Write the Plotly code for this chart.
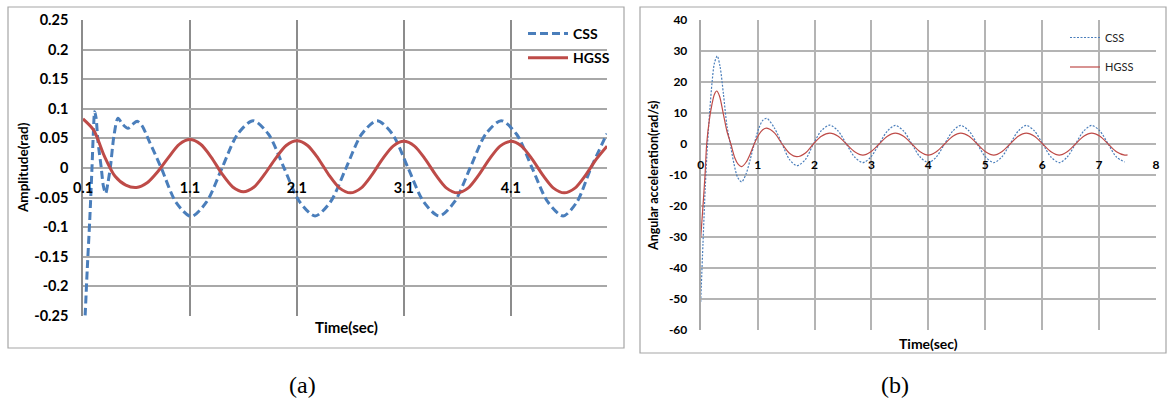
import plotly.graph_objects as go

W, H = 1168, 408
def px(x): return x / W
def py(y): return 1 - y / H

FONT = "Lato"
BLUE = "#4a7ebb"
RED = "#be4b48"

# ---------------- data: chart (a) ----------------
t_css_a = [0.115, 0.14, 0.163, 0.184, 0.197, 0.209, 0.222, 0.24, 0.271, 0.29, 0.312, 0.333,
           0.355, 0.39, 0.427, 0.47, 0.52, 0.565, 0.607, 0.65, 0.72, 0.832, 0.97, 1.112,
           1.257, 1.40, 1.545, 1.69, 1.835, 1.98, 2.125, 2.27, 2.415, 2.56, 2.705, 2.85,
           2.995, 3.14, 3.285, 3.43, 3.575, 3.72, 3.865, 4.01, 4.155, 4.30, 4.445, 4.59,
           4.72, 4.85, 5.00]
css_a = [-0.27, -0.17, -0.088, 0.0, 0.06, 0.095, 0.085, 0.045, 0.0, -0.03, -0.043, -0.025,
         0.0, 0.055, 0.084, 0.074, 0.067, 0.074, 0.079, 0.072, 0.045, 0.0, -0.058, -0.082,
         -0.057, 0.0, 0.057, 0.080, 0.057, 0.0, -0.057, -0.081, -0.057, 0.0, 0.057, 0.080,
         0.057, 0.0, -0.057, -0.081, -0.057, 0.0, 0.057, 0.080, 0.057, 0.0, -0.057, -0.081,
         -0.057, 0.0, 0.058]
t_hgss_a = [0.1, 0.2, 0.3, 0.4, 0.5, 0.6, 0.7, 0.8, 0.9, 1.0,
            1.1, 1.2, 1.3, 1.4, 1.5, 1.6, 1.7, 1.8, 1.9, 2.0,
            2.1, 2.2, 2.3, 2.4, 2.5, 2.6, 2.7, 2.8, 2.9, 3.0,
            3.1, 3.2, 3.3, 3.4, 3.5, 3.6, 3.7, 3.8, 3.9, 4.0,
            4.1, 4.2, 4.3, 4.4, 4.5, 4.6, 4.7, 4.8, 4.9, 5.0]
hgss_a = [0.083, 0.064, 0.020, -0.014, -0.029, -0.033, -0.025, -0.006, 0.018, 0.040,
          0.048, 0.040, 0.018, -0.010, -0.032, -0.040, -0.032, -0.010, 0.016, 0.038,
          0.046, 0.038, 0.016, -0.012, -0.034, -0.042, -0.034, -0.012, 0.015, 0.037,
          0.045, 0.037, 0.015, -0.012, -0.034, -0.042, -0.034, -0.012, 0.015, 0.037,
          0.045, 0.037, 0.015, -0.012, -0.034, -0.042, -0.034, -0.012, 0.015, 0.037]
xticks_a = [0.1, 1.1, 2.1, 3.1, 4.1]
xticklabels_a = ["0.1", "1.1", "2.1", "3.1", "4.1"]
yticks_a = [0.25, 0.2, 0.15, 0.1, 0.05, 0, -0.05, -0.1, -0.15, -0.2, -0.25]
yticklabels_a = ["0.25", "0.2", "0.15", "0.1", "0.05", "0", "-0.05", "-0.1", "-0.15", "-0.2", "-0.25"]

# ---------------- data: chart (b) ----------------
t_css_b = [0.0, 0.04, 0.08, 0.12, 0.16, 0.20, 0.24, 0.29, 0.34, 0.40, 0.46, 0.52, 0.58,
           0.65, 0.72, 0.80, 0.87, 0.94, 1.02, 1.09, 1.16, 1.30, 1.43, 1.56, 1.69, 1.84,
           1.98, 2.12, 2.27, 2.415, 2.56, 2.705, 2.85, 2.99, 3.135, 3.28, 3.42, 3.565,
           3.71, 3.855, 4.00, 4.14, 4.285, 4.43, 4.57, 4.715, 4.86, 5.005, 5.15, 5.29,
           5.435, 5.58, 5.72, 5.865, 6.01, 6.155, 6.30, 6.44, 6.585, 6.73, 6.87, 7.015,
           7.16, 7.305, 7.45]
css_b = [-51, -32, -14, 0, 11, 20, 26, 28.4, 25, 16, 6, 0, -6,
         -10.8, -12.2, -9.5, -5, 0, 5, 7.6, 8.3, 5.0, 0, -5.0, -7.0, -5.0,
         0, 4.3, 6.1, 4.2, 0, -4.2, -6.0, -4.2, 0, 4.2, 6.0, 4.2,
         0, -4.2, -6.0, -4.2, 0, 4.2, 6.0, 4.2, 0, -4.2, -6.0, -4.2,
         0, 4.2, 6.0, 4.2, 0, -4.2, -6.0, -4.2, 0, 4.2, 6.0, 4.2,
         0, -4.2, -5.8]
t_hgss_b = [0.0, 0.04, 0.076, 0.105, 0.15, 0.20, 0.24, 0.28, 0.33, 0.40, 0.46, 0.53, 0.60,
            0.66, 0.72, 0.80, 0.87, 0.94, 1.02, 1.09, 1.16, 1.30, 1.43, 1.56, 1.69, 1.84,
            1.98, 2.12, 2.27, 2.415, 2.56, 2.705, 2.85, 2.99, 3.135, 3.28, 3.42, 3.565,
            3.71, 3.855, 4.00, 4.14, 4.285, 4.43, 4.57, 4.715, 4.86, 5.005, 5.15, 5.29,
            5.435, 5.58, 5.72, 5.865, 6.01, 6.155, 6.30, 6.44, 6.585, 6.73, 6.87, 7.015,
            7.16, 7.305, 7.45, 7.5]
hgss_b = [-30.3, -20, -10, 0, 7.5, 13, 16, 17.1, 15.5, 9.5, 4.2, 0, -4.5,
          -6.6, -7.3, -5.8, -3.2, 0, 3.0, 4.6, 5.1, 3.5, 0, -3.0, -4.1, -2.9,
          0, 2.5, 3.5, 2.5, 0, -2.5, -3.6, -2.5, 0, 2.5, 3.5, 2.5,
          0, -2.5, -3.6, -2.5, 0, 2.5, 3.5, 2.5, 0, -2.5, -3.6, -2.5,
          0, 2.5, 3.5, 2.5, 0, -2.5, -3.6, -2.5, 0, 2.5, 3.5, 2.5,
          0, -2.5, -3.6, -3.5]
xticks_b = [0, 1, 2, 3, 4, 5, 6, 7, 8]
xticklabels_b = ["0", "1", "2", "3", "4", "5", "6", "7", "8"]
yticks_b = [40, 30, 20, 10, 0, -10, -20, -30, -40, -50, -60]
yticklabels_b = ["40", "30", "20", "10", "0", "-10", "-20", "-30", "-40", "-50", "-60"]

series_names = ["CSS", "HGSS"]

fig = go.Figure()

fig.add_trace(go.Scatter(x=t_css_a, y=css_a, name=series_names[0], mode="lines",
                         line=dict(color=BLUE, width=3, dash="8px,4px", shape="spline", smoothing=0.8),
                         xaxis="x", yaxis="y", legend="legend", legendgroup="a1"))
fig.add_trace(go.Scatter(x=t_hgss_a, y=hgss_a, name=series_names[1], mode="lines",
                         line=dict(color=RED, width=3, shape="spline", smoothing=0.8),
                         xaxis="x", yaxis="y", legend="legend", legendgroup="a2"))
fig.add_trace(go.Scatter(x=t_css_b, y=css_b, name=series_names[0], mode="lines",
                         line=dict(color=BLUE, width=1.2, dash="2px,1.5px", shape="spline", smoothing=0.8),
                         xaxis="x2", yaxis="y2", legend="legend2", legendgroup="b1"))
fig.add_trace(go.Scatter(x=t_hgss_b, y=hgss_b, name=series_names[1], mode="lines",
                         line=dict(color=RED, width=1.2, shape="spline", smoothing=0.8),
                         xaxis="x2", yaxis="y2", legend="legend2", legendgroup="b2"))

tickfont_a = dict(family=FONT, size=14.5, color="#000000", weight="bold")
tickfont_b = dict(family=FONT, size=12, color="#000000", weight="bold")

fig.update_layout(
    width=W, height=H,
    margin=dict(l=0, r=0, t=0, b=0, autoexpand=False),
    paper_bgcolor="white", plot_bgcolor="white",
    xaxis=dict(domain=[px(83), px(607)], range=[0.1, 5.0], tickvals=xticks_a, ticktext=xticklabels_a,
               showgrid=True, gridcolor="#8c8c8c", gridwidth=1.5, zeroline=False, showline=False,
               ticks="", anchor="free", position=py(168), tickfont=tickfont_a, ticklabelstandoff=9,
               automargin=False),
    yaxis=dict(domain=[py(316), py(20)], range=[-0.25, 0.25], tickvals=yticks_a, ticktext=yticklabels_a,
               showgrid=True, gridcolor="#a8a8a8", gridwidth=1.5, zeroline=False, showline=True,
               linecolor="#8c8c8c", linewidth=1.5, ticks="", anchor="x", tickfont=tickfont_a,
               ticklabelstandoff=10, automargin=False),
    xaxis2=dict(domain=[px(700.7), px(1156)], range=[0, 8], tickvals=xticks_b, ticktext=xticklabels_b,
                showgrid=True, gridcolor="#b4b4b4", gridwidth=2, zeroline=False, showline=False,
                ticks="", anchor="free", position=py(144), tickfont=tickfont_b,
                ticklabelstandoff=12, automargin=False),
    yaxis2=dict(domain=[py(330), py(20)], range=[-60, 40], tickvals=yticks_b, ticktext=yticklabels_b,
                showgrid=True, gridcolor="#b4b4b4", gridwidth=2, zeroline=False, showline=True,
                linecolor="#a8a8a8", linewidth=2, ticks="", anchor="x2",
                tickfont=tickfont_b, ticklabelstandoff=9, automargin=False),
    legend=dict(x=px(523), y=py(18), xanchor="left", yanchor="top", bgcolor="rgba(0,0,0,0)",
                font=dict(family=FONT, size=14, color="#000000", weight="bold"),
                tracegroupgap=3, itemwidth=40),
    legend2=dict(x=px(1065), y=py(23), xanchor="left", yanchor="top", bgcolor="rgba(0,0,0,0)",
                 font=dict(family=FONT, size=11, color="#222222"),
                 tracegroupgap=10.5, itemwidth=30),
    showlegend=True,
)

shapes = [
    dict(type="rect", xref="paper", yref="paper", x0=px(8), x1=px(624), y0=py(348), y1=py(7),
         line=dict(color="#a6a6a6", width=1.2), fillcolor="rgba(0,0,0,0)", layer="below"),
    dict(type="rect", xref="paper", yref="paper", x0=px(640), x1=px(1166), y0=py(353), y1=py(7),
         line=dict(color="#a6a6a6", width=1.2), fillcolor="rgba(0,0,0,0)", layer="below"),
]
fig.update_layout(shapes=shapes)

annotations = [
    dict(text="Amplitude(rad)", x=px(23), y=py(168), textangle=-90,
         font=dict(family=FONT, size=13.5, color="#000000", weight="bold")),
    dict(text="Time(sec)", x=px(346), y=py(327),
         font=dict(family=FONT, size=15, color="#000000", weight="bold")),
    dict(text="Angular acceleration(rad/s)", x=px(653), y=py(176), textangle=-90,
         font=dict(family=FONT, size=12.5, color="#000000", weight="bold")),
    dict(text="Time(sec)", x=px(928), y=py(343),
         font=dict(family=FONT, size=14, color="#000000", weight="bold")),
    dict(text="(a)", x=px(302), y=py(385), font=dict(family="Liberation Serif", size=24, color="#000000")),
    dict(text="(b)", x=px(895), y=py(385), font=dict(family="Liberation Serif", size=24, color="#000000")),
]
for a in annotations:
    a.update(xref="paper", yref="paper", showarrow=False, xanchor="center", yanchor="middle")
fig.update_layout(annotations=annotations)

fig.write_html("out.html", config={"displayModeBar": False},
               post_script="document.body.style.margin='0px';")
